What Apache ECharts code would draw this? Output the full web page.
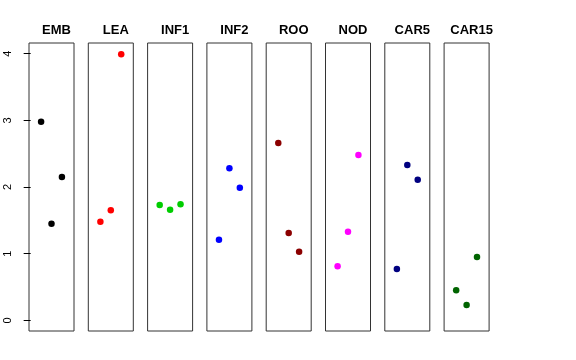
<!DOCTYPE html>
<html>
<head>
<meta charset="utf-8">
<script src="https://cdn.jsdelivr.net/npm/echarts@6/dist/echarts.min.js"></script>
<style>html,body{margin:0;padding:0;background:#fff;}#c{width:576px;height:360px;}</style>
</head>
<body>
<div id="c"></div>
<script>
const panels = ['EMB','LEA','INF1','INF2','ROO','NOD','CAR5','CAR15'];
const colors = ['#000000','#FF0000','#00CD00','#0000FF','#8B0000','#FF00FF','#000080','#006400'];
const EMB = [2.98, 1.45, 2.15];
const LEA = [1.48, 1.65, 3.99];
const INF1 = [1.73, 1.66, 1.74];
const INF2 = [1.21, 2.28, 1.99];
const ROO = [2.66, 1.31, 1.03];
const NOD = [0.81, 1.33, 2.48];
const CAR5 = [0.77, 2.33, 2.11];
const CAR15 = [0.45, 0.23, 0.95];
const values = [EMB, LEA, INF1, INF2, ROO, NOD, CAR5, CAR15];
const yTicks = [0, 1, 2, 3, 4];
const xPos = [1, 2, 3];

(function () {
const chart = echarts.init(document.getElementById('c'), null, {renderer: 'canvas'});
const grids = [], xAxes = [], yAxes = [], series = [], titles = [];
const left0 = 29, step = 59.3, w = 45, gTop = 43, gH = 288;
panels.forEach((name, i) => {
  const l = left0 + i * step;
  grids.push({left: l, top: gTop, width: w, height: gH, show: true, borderColor: '#333', borderWidth: 1, backgroundColor: 'transparent', containLabel: false});
  xAxes.push({type: 'value', gridIndex: i, min: -0.16, max: 4.16, show: false});
  yAxes.push({
    type: 'value', gridIndex: i, min: -0.16, max: 4.16, show: i === 0,
    axisLine: {show: false},
    splitLine: {show: false},
    axisTick: {show: true, inside: false, length: 7, lineStyle: {color: '#000', width: 1}, customValues: yTicks},
    axisLabel: {show: true, rotate: 90, margin: 16, fontSize: 11, color: '#000', fontFamily: 'Liberation Sans, Arial, sans-serif', customValues: yTicks}
  });
  series.push({
    type: 'scatter', xAxisIndex: i, yAxisIndex: i,
    symbol: 'circle', symbolSize: 6.5,
    itemStyle: {color: colors[i], opacity: 1},
    data: xPos.map((x, k) => [x, values[i][k]]),
    animation: false
  });
  titles.push({
    text: name, left: l + w / 2, top: 19, textAlign: 'center',
    textStyle: {fontSize: 13, fontWeight: 'bold', color: '#000', fontFamily: 'Liberation Sans, Arial, sans-serif'}
  });
});
chart.setOption({
  animation: false,
  title: titles,
  grid: grids,
  xAxis: xAxes,
  yAxis: yAxes,
  series: series
});
})();
</script>
</body>
</html>
